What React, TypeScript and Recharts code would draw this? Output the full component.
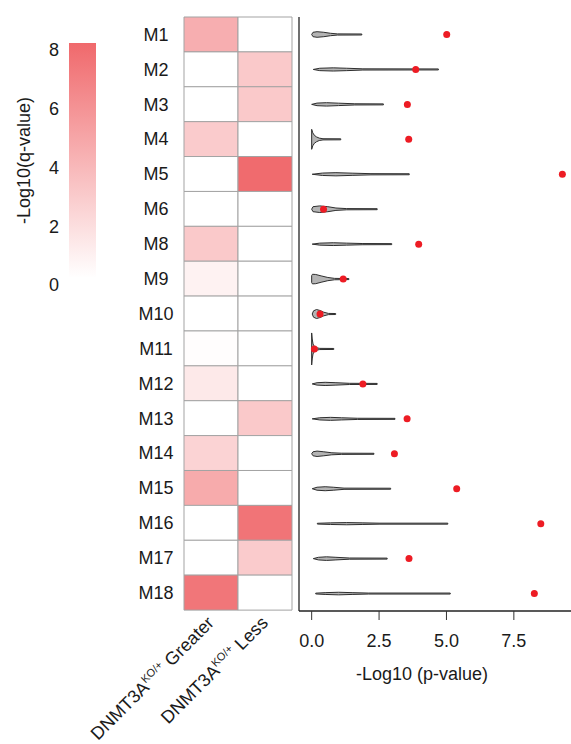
import React from 'react';
import { BarChart, Bar, XAxis, YAxis, Cell, ComposedChart } from 'recharts';

const FONT = '"Liberation Sans", Arial, Helvetica, sans-serif';
const TEXT = '#1a1a1a';

// ---------- data ----------
const modules = ['M1', 'M2', 'M3', 'M4', 'M5', 'M6', 'M8', 'M9', 'M10', 'M11', 'M12', 'M13', 'M14', 'M15', 'M16', 'M17', 'M18'];
const qGreater = [4.3, 0, 0, 2.8, 0, 0, 2.9, 0.7, 0, 0.1, 1.2, 0, 2.35, 4.5, 0, 0, 7.3];
const qLess = [0, 2.9, 2.9, 0, 7.9, 0, 0, 0, 0, 0, 0, 2.9, 0, 0, 7.4, 2.8, 0];
const observedP = [5.01, 3.86, 3.55, 3.6, 9.3, 0.44, 3.97, 1.17, 0.31, 0.1, 1.9, 3.54, 3.07, 5.38, 8.5, 3.61, 8.26];
// null distribution density profiles: [ -log10 p , density ]
const nullDensity: [number, number][][] = [
  [[0, 0], [0.05, 2.2], [0.2, 2.8], [0.45, 2.2], [0.7, 1.2], [0.95, 0.6], [1.86, 0.5]],
  [[0.06, 0], [0.3, 1.2], [0.8, 1.6], [1.3, 1.2], [1.9, 0.6], [4.7, 0.5]],
  [[0, 0], [0.2, 1.3], [0.55, 1.7], [1.0, 1.2], [1.6, 0.6], [2.66, 0.5]],
  [[0, 10], [0.04, 6.5], [0.1, 4], [0.18, 2.4], [0.28, 1.2], [0.42, 0.6], [1.08, 0.5]],
  [[0.02, 0], [0.4, 1.2], [0.9, 1.6], [1.5, 1.1], [2.2, 0.6], [3.62, 0.5]],
  [[0, 0], [0.05, 2.5], [0.3, 3.3], [0.6, 2.5], [0.9, 1.2], [1.3, 0.6], [2.43, 0.5]],
  [[0.02, 0], [0.3, 1.0], [0.8, 1.4], [1.3, 1.0], [1.9, 0.6], [2.97, 0.5]],
  [[0, 3.5], [0.03, 4.8], [0.15, 4.6], [0.35, 3.2], [0.6, 1.6], [0.85, 0.7], [1.38, 0.5]],
  [[0.02, 0], [0.07, 3.2], [0.18, 4.5], [0.3, 3.6], [0.45, 1.8], [0.62, 0.6], [0.89, 0.5]],
  [[0, 16], [0.02, 10], [0.05, 5], [0.1, 2.5], [0.18, 1.2], [0.3, 0.6], [0.82, 0.5]],
  [[0.02, 0], [0.2, 1.2], [0.5, 1.6], [0.9, 1.2], [1.4, 0.6], [2.43, 0.5]],
  [[0.02, 0], [0.3, 1.1], [0.7, 1.5], [1.1, 1.1], [1.7, 0.6], [3.09, 0.5]],
  [[0, 0], [0.05, 2.0], [0.2, 2.7], [0.45, 2.0], [0.75, 1.0], [1.1, 0.6], [2.31, 0.5]],
  [[0.02, 0], [0.2, 1.5], [0.5, 2], [0.8, 1.5], [1.2, 0.6], [2.93, 0.5]],
  [[0.21, 0.4], [0.7, 0.8], [1.3, 1.1], [1.9, 0.8], [2.5, 0.5], [5.05, 0.5]],
  [[0.06, 0], [0.25, 1.3], [0.55, 1.8], [0.9, 1.3], [1.4, 0.6], [2.8, 0.5]],
  [[0.15, 0.4], [0.5, 0.9], [1.0, 1.3], [1.5, 0.9], [2.1, 0.5], [5.14, 0.5]],
];
const pTicks = [0, 2.5, 5, 7.5];
const qTicks = [0, 2, 4, 6, 8];
const qMax = 8;
const columnLabels = ['Greater', 'Less'];

// ---------- derived tables ----------
const heatData = modules.map((m, i) => ({ name: m, greater: qGreater[i], less: qLess[i] }));
const violinData = modules.map((m, i) => {
  const prof = nullDensity[i];
  return {
    name: m,
    range: [prof[0][0], prof[prof.length - 1][0]],
    profile: prof,
    obs: observedP[i],
  };
});
const legendData = [{ name: 'q', range: [0, qMax] }];

const LOW = [255, 255, 255];
const HIGH = [240, 105, 108];
const qColor = (q: number) => {
  const t = Math.max(0, Math.min(1, q / qMax));
  const c = LOW.map((l, k) => Math.round(l + (HIGH[k] - l) * t));
  return `rgb(${c[0]},${c[1]},${c[2]})`;
};

// ---------- custom renderers ----------
const ModuleTick = (props: any) => {
  const { x, y, payload } = props;
  return (
    <text x={x - 28} y={y} dy="0.355em" textAnchor="middle" fontSize={18} fill={TEXT} fontFamily={FONT}>
      {payload.value}
    </text>
  );
};

const ColumnTick = (props: any) => {
  const { x, y, index } = props;
  const ax = x + 4;
  const ay = y + 14;
  return (
    <text x={ax} y={ay} textAnchor="end" fontSize={18} fill={TEXT} fontFamily={FONT} transform={`rotate(-45, ${ax}, ${ay})`}>
      <tspan>DNMT3A</tspan>
      <tspan fontSize={11} dy={-7}>KO/+</tspan>
      <tspan dy={7}>{' ' + columnLabels[index]}</tspan>
    </text>
  );
};

const DENSITY_PX = 1;
const ViolinShape = (props: any) => {
  const { x, y, width, height, payload } = props;
  if (!payload) return null;
  const [lo, hi] = payload.range;
  const px = (v: number) => x + ((v - lo) / (hi - lo)) * width;
  const cy = y + height / 2;
  const prof: [number, number][] = payload.profile;
  const top = prof.map(([v, d]) => `${px(v).toFixed(2)},${(cy - d * DENSITY_PX).toFixed(2)}`);
  const bot = prof
    .slice()
    .reverse()
    .map(([v, d]) => `${px(v).toFixed(2)},${(cy + d * DENSITY_PX).toFixed(2)}`);
  const d = 'M' + top.join('L') + 'L' + bot.join('L') + 'Z';
  return (
    <g>
      <path d={d} fill="#b4b4b4" stroke="#2e2e2e" strokeWidth={1} strokeLinejoin="round" />
      <circle cx={px(payload.obs)} cy={cy} r={3.5} fill="#ed1c24" />
    </g>
  );
};

const LegendTick = (props: any) => {
  const { x, y, payload } = props;
  return (
    <text x={x} y={y + 7} dy="0.355em" textAnchor="end" fontSize={18} fill={TEXT} fontFamily={FONT}>
      {payload.value}
    </text>
  );
};

const LegendTitle = (props: any) => {
  const vb = props.viewBox || { x: 0, y: 0, width: 0, height: 0 };
  const tx = vb.x + 30;
  const ty = vb.y + vb.height / 2;
  return (
    <text x={tx} y={ty} textAnchor="middle" fontSize={18} fill={TEXT} fontFamily={FONT} transform={`rotate(-90, ${tx}, ${ty})`}>
      -Log10(q-value)
    </text>
  );
};

const PTitle = (props: any) => {
  const vb = props.viewBox || { x: 0, y: 0, width: 0, height: 0 };
  return (
    <text x={vb.x + 123} y={vb.y + 69} textAnchor="middle" fontSize={18} fill={TEXT} fontFamily={FONT}>
      -Log10 (p-value)
    </text>
  );
};

export default function App() {
  return (
    <div style={{ position: 'absolute', left: 0, top: 0, width: 571, height: 744, background: '#fff', fontFamily: FONT, overflow: 'hidden' }}>
      {/* colour legend */}
      <div style={{ position: 'absolute', left: 0, top: 0 }}>
        <BarChart width={140} height={300} data={legendData} margin={{ top: 43, right: 44, left: 0, bottom: 22 }} barCategoryGap={0}>
          <defs>
            <linearGradient id="qgrad" x1="0" y1="1" x2="0" y2="0">
              <stop offset="0%" stopColor={qColor(0)} />
              <stop offset="100%" stopColor={qColor(qMax)} />
            </linearGradient>
          </defs>
          <XAxis type="category" dataKey="name" hide />
          <YAxis
            type="number"
            domain={[0, qMax]}
            ticks={qTicks}
            width={69}
            axisLine={false}
            tickLine={false}
            tickSize={0}
            tickMargin={10}
            tick={LegendTick}
            interval={0}
            label={LegendTitle}
          />
          <Bar dataKey="range" fill="url(#qgrad)" isAnimationActive={false} />
        </BarChart>
      </div>

      {/* heatmap */}
      <div style={{ position: 'absolute', left: 0, top: 0 }}>
        <BarChart width={300} height={744} data={heatData} layout="vertical" margin={{ top: 17, right: 8, left: 0, bottom: 34 }} barCategoryGap={0}>
          <XAxis
            type="number"
            domain={[0, 2]}
            ticks={[0.5, 1.5]}
            axisLine={false}
            tickLine={false}
            tickSize={0}
            tickMargin={0}
            height={100}
            interval={0}
            tick={ColumnTick}
          />
          <YAxis
            type="category"
            dataKey="name"
            width={184}
            axisLine={false}
            tickLine={false}
            tickSize={0}
            tickMargin={0}
            interval={0}
            tick={ModuleTick}
          />
          <Bar dataKey={() => 1} stackId="h" isAnimationActive={false} stroke="#a3a3a3" strokeWidth={1}>
            {heatData.map((d) => (
              <Cell key={'g' + d.name} fill={qColor(d.greater)} />
            ))}
          </Bar>
          <Bar dataKey={() => 1} stackId="h" isAnimationActive={false} stroke="#a3a3a3" strokeWidth={1}>
            {heatData.map((d) => (
              <Cell key={'l' + d.name} fill={qColor(d.less)} />
            ))}
          </Bar>
        </BarChart>
      </div>

      {/* violins */}
      <div style={{ position: 'absolute', left: 290, top: 0 }}>
        <ComposedChart width={281} height={744} data={violinData} layout="vertical" margin={{ top: 17, right: 0, left: 8, bottom: 33 }}>
          <XAxis
            type="number"
            domain={[-0.47, 9.62]}
            ticks={pTicks}
            allowDataOverflow
            tickFormatter={(v: number) => v.toFixed(1)}
            height={100}
            tickSize={9}
            tickMargin={14}
            axisLine={{ stroke: '#222', strokeWidth: 1.3 }}
            tickLine={{ stroke: '#333', strokeWidth: 1 }}
            tick={{ fontSize: 18, fill: TEXT, fontFamily: FONT }}
            interval={0}
            label={PTitle}
          />
          <YAxis
            type="category"
            dataKey="name"
            width={1}
            tick={false}
            tickLine={false}
            axisLine={{ stroke: '#222', strokeWidth: 1.3 }}
          />
          <Bar dataKey="range" shape={ViolinShape} isAnimationActive={false} />
        </ComposedChart>
      </div>
    </div>
  );
}
